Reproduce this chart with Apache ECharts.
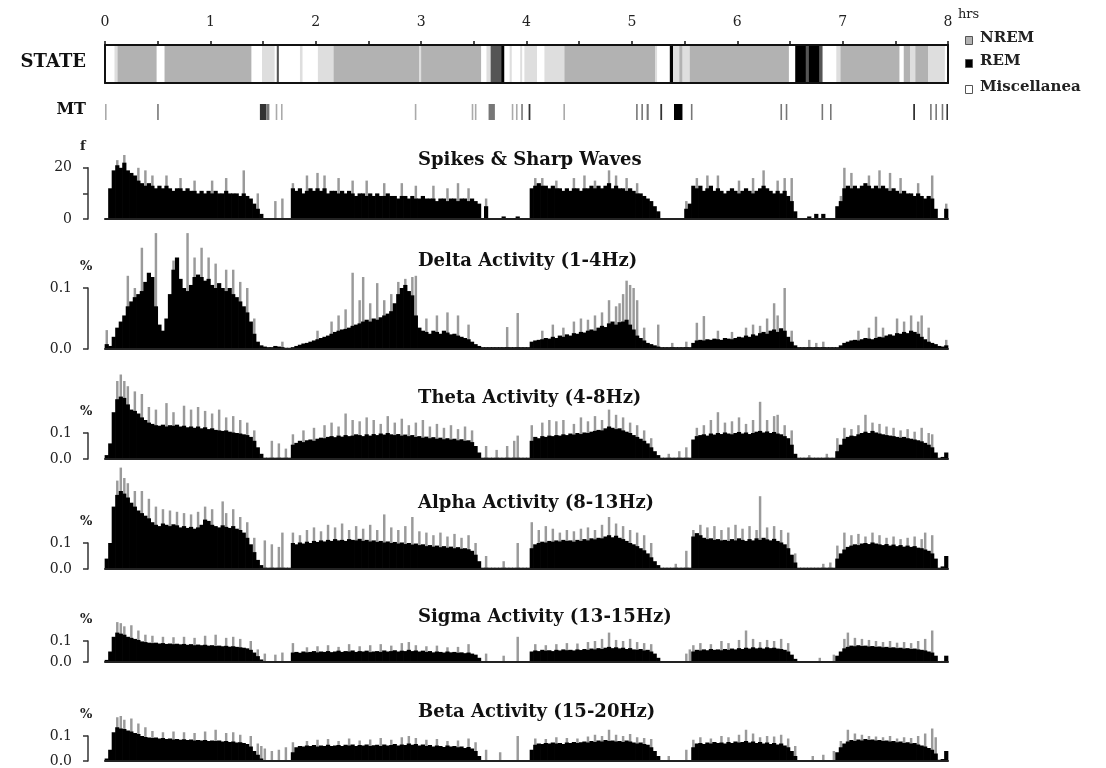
<!DOCTYPE html>
<html><head><meta charset="utf-8">
<script src="https://cdn.jsdelivr.net/npm/echarts@6/dist/echarts.min.js"></script>
<style>html,body{margin:0;padding:0;background:#fff}#c{width:1106px;height:768px}</style>
</head><body><div id="c"></div><script>
// ---------------- DATA ----------------
const hourTicks = [0,1,2,3,4,5,6,7,8];
const binCount = 240; // 2-minute bins over 8 hours
const binLabels = Array.from({length: binCount}, (_, i) => (i * 2) + ' min');

// STATE segments: [startHour, endHour, code]  0=Misc(white) 1=NREM(gray) 2=REM(black) 3=light transition 4=dark transition
const stateSegments = [
 [0,0.09,0],[0.09,0.12,3],[0.12,0.49,1],[0.49,0.565,0],[0.565,1.39,1],[1.39,1.49,0],[1.49,1.61,3],
 [1.61,1.63,0],[1.63,1.65,4],[1.65,1.85,0],[1.85,1.875,3],[1.875,2.02,0],[2.02,2.17,3],[2.17,2.98,1],
 [2.98,3.0,3],[3.0,3.57,1],[3.57,3.62,0],[3.62,3.66,3],[3.66,3.76,4],[3.76,3.79,2],[3.79,3.84,0],
 [3.84,3.86,3],[3.86,3.94,0],[3.94,3.96,3],[3.96,3.98,0],[3.98,4.10,3],[4.10,4.17,0],[4.17,4.36,3],
 [4.36,5.22,1],[5.22,5.24,3],[5.24,5.36,0],[5.36,5.39,2],[5.39,5.45,3],[5.45,5.48,1],[5.48,5.55,3],
 [5.55,6.49,1],[6.49,6.55,0],[6.55,6.65,2],[6.65,6.68,4],[6.68,6.78,2],[6.78,6.81,4],[6.81,6.94,0],
 [6.94,6.98,3],[6.98,7.54,1],[7.54,7.58,0],[7.58,7.64,1],[7.64,7.69,3],[7.69,7.81,1],[7.81,7.97,3],[7.97,8.0,0]
];
const stateColors = ['#ffffff','#b2b2b2','#000000','#dedede','#555555'];
const legendNames = ['NREM','REM','Miscellanea'];

// MT marks: [startHour, endHour, shade]  0=light 1=mid 2=dark 3=black
const mtMarks = [
 [0.00,0.015,0],[0.495,0.51,1],[1.47,1.53,2],[1.53,1.56,1],[1.62,1.635,0],[1.67,1.685,0],[2.94,2.955,0],
 [3.48,3.495,0],[3.51,3.525,0],[3.64,3.70,1],[3.86,3.875,0],[3.90,3.915,0],[3.95,3.965,1],[4.02,4.037,2],
 [4.35,4.365,0],[5.04,5.055,1],[5.09,5.105,1],[5.14,5.16,1],[5.27,5.287,2],[5.40,5.48,3],[5.56,5.575,1],
 [6.41,6.425,1],[6.46,6.475,1],[6.80,6.815,1],[6.88,6.895,1],[7.67,7.687,2],[7.83,7.845,1],[7.88,7.895,1],
 [7.94,7.955,1],[7.985,8.0,2]
];
const mtShades = ['#aaaaaa','#777777','#333333','#000000'];

// Spikes & sharp waves (count f per bin)
const spikesBlack = [
 0,12,19,21,20,22,19,18,17,15, 14,13,14,13,12,13,12,13,12,11, 12,12,11,12,11,11,10,11,10,11,
 10,11,10,10,11,10,10,10,9,10, 9,8,6,4,2,0,0,0,0,0, 0,0,0,12,11,12,10,11,12,11,
 12,11,12,10,11,11,10,11,10,11, 10,9,10,10,9,10,9,10,9,9, 10,9,9,8,9,9,8,9,8,8,
 9,8,8,8,7,8,8,7,8,8, 7,8,8,7,8,7,6,0,5,0, 0,0,0,1,0,0,0,1,0,0,
 0,12,13,14,13,13,12,13,12,12, 11,12,11,12,12,11,12,12,13,12, 13,12,13,14,12,13,12,12,11,12,
 11,10,10,9,8,7,5,3,0,0, 0,0,0,0,0,4,6,13,12,13, 11,12,13,11,12,11,10,11,12,11,
 10,11,12,11,10,11,12,13,12,11, 10,11,10,11,9,7,3,0,0,0, 1,0,2,0,2,0,0,0,5,7,
 12,13,12,13,12,13,14,13,12,13, 12,13,12,11,12,11,10,11,10,10, 9,10,9,8,9,8,4,0,0,4
];
const spikesPeaks = [[3,23],[5,25],[9,20],[11,19],[13,17],[17,17],[21,16],[25,15],[30,15],[34,16],[39,19],[43,10],
 [48,7],[50,8],[53,14],[57,17],[60,18],[62,17],[66,16],[70,15],[74,15],[79,14],[84,14],[88,13],[93,13],[97,12],
 [100,14],[103,12],[108,8],[122,16],[124,16],[128,15],[133,16],[136,17],[139,15],[143,19],[145,17],[148,16],[151,14],
 [165,7],[168,16],[171,17],[174,17],[180,15],[184,16],[187,19],[191,15],[193,16],[195,16],[209,9],[210,20],[212,18],
 [217,17],[220,19],[223,18],[226,16],[231,14],[235,17],[239,6]];

// Delta activity (units of 0.001 %)
const deltaBlack = [
 8,5,20,35,45,55,70,78,85,90, 95,110,125,118,70,40,30,50,90,130, 150,115,100,95,105,118,122,118,112,115,
 105,100,108,100,95,100,90,85,78,70, 60,45,25,12,6,4,3,3,5,4, 3,2,2,3,5,7,9,10,12,14,
 16,18,20,22,25,28,30,32,33,35, 38,40,42,45,48,45,50,48,52,55, 58,62,75,90,100,105,95,88,55,35,
 30,28,25,30,28,25,30,27,24,25, 22,20,18,16,12,8,5,3,3,3, 3,3,3,3,3,3,3,3,3,3,
 3,12,14,15,16,18,17,20,18,22, 20,24,22,26,25,28,27,30,32,30, 35,38,36,42,45,40,44,45,48,40,
 32,22,18,14,10,8,6,4,3,3, 3,3,3,3,3,3,3,10,14,15, 14,16,15,17,16,15,18,17,16,18,
 20,19,22,20,24,22,26,28,25,30, 32,28,34,30,20,12,6,3,3,3, 3,3,3,3,3,3,3,3,3,6,
 10,12,14,15,14,16,18,17,16,18, 20,19,22,24,22,26,25,28,26,30, 28,25,20,16,12,10,8,5,4,6
];
const deltaPeaks = [[0,31],[6,120],[8,100],[10,166],[14,190],[19,145],[23,190],[25,150],[27,166],[29,150],[31,140],
 [34,130],[36,130],[38,110],[40,100],[42,50],[50,12],[60,30],[64,45],[66,55],[68,65],[70,125],[72,80],[73,118],[75,75],
 [77,108],[79,80],[81,90],[83,110],[85,115],[87,118],[88,120],[91,50],[94,55],[97,60],[100,55],[103,40],[114,36],[117,59],
 [124,30],[127,40],[130,35],[133,45],[135,50],[137,48],[139,55],[141,60],[143,80],[145,70],[146,75],[147,90],[148,112],
 [149,105],[150,100],[151,80],[153,35],[157,40],[161,10],[165,12],[168,43],[170,54],[174,30],[178,28],[182,35],[184,40],
 [186,38],[188,50],[190,75],[191,55],[193,100],[195,30],[200,15],[202,10],[204,12],[214,30],[217,35],[219,53],[221,35],
 [225,50],[227,45],[229,55],[231,45],[232,55],[234,35],[239,15]];

// Theta activity (units of 0.001 %)
const thetaBlack = [
 15,60,180,230,240,235,210,190,185,175, 160,150,140,135,130,128,132,125,130,128, 132,125,128,122,125,120,125,118,122,115,
 118,112,110,108,110,105,102,100,98,95, 92,85,70,45,20,5,5,5,5,5, 5,5,5,55,62,70,65,72,75,70,
 78,82,80,85,88,84,90,86,92,88, 90,95,92,88,95,90,96,92,98,94, 100,95,92,96,90,94,88,92,85,88,
 82,86,80,84,78,82,76,80,75,78, 72,76,70,72,65,50,25,5,5,5, 5,5,5,5,5,5,5,5,5,5,
 5,70,85,80,88,85,90,88,92,90, 95,92,98,94,100,96,102,100,105,108, 112,110,118,125,120,115,118,110,105,100,
 92,85,78,70,60,45,30,15,5,5, 5,5,5,5,5,5,5,75,88,92, 95,90,98,94,100,96,102,98,95,100,
 104,98,102,96,100,105,108,102,106,100, 104,98,95,88,80,55,20,5,5,5, 5,5,5,5,5,5,5,5,30,55,
 78,85,90,88,95,100,105,100,108,102, 98,95,92,90,88,85,82,85,80,78, 75,72,68,62,55,45,25,5,8,25
];
const thetaPeaks = [[3,300],[4,325],[5,300],[6,280],[8,260],[10,250],[12,200],[14,190],[17,215],[19,180],[22,205],
 [24,190],[26,200],[28,185],[30,175],[32,190],[34,160],[36,165],[38,150],[40,140],[42,110],[47,70],[49,60],[51,40],
 [53,95],[56,110],[59,120],[62,130],[64,140],[66,125],[68,175],[70,150],[72,145],[74,160],[76,150],[78,135],[80,165],
 [82,140],[84,155],[86,130],[88,140],[90,150],[92,125],[94,135],[96,120],[98,130],[100,115],[102,125],[104,110],
 [108,50],[111,35],[114,50],[116,70],[117,90],[121,130],[124,140],[126,150],[128,145],[130,150],[133,135],[135,160],
 [137,145],[139,165],[141,150],[143,190],[145,170],[147,160],[149,140],[151,130],[153,110],[155,80],[160,20],[163,30],
 [165,45],[168,120],[170,130],[172,150],[174,180],[176,140],[178,145],[180,160],[182,135],[184,150],[186,220],[188,150],
 [190,165],[191,170],[193,130],[195,110],[200,15],[205,20],[208,80],[210,120],[212,115],[214,130],[216,170],[218,140],
 [220,135],[222,125],[224,120],[226,110],[228,115],[230,105],[232,120],[234,100],[235,95]];

// Alpha activity (units of 0.001 %)
const alphaBlack = [
 40,100,240,285,300,290,275,255,240,225, 215,205,195,180,170,165,175,170,165,172, 168,160,165,158,162,155,160,170,190,185,
 170,165,160,168,162,158,165,155,150,140, 120,95,65,35,15,5,5,5,5,5, 5,5,5,100,95,102,98,105,100,108,
 104,110,106,112,108,115,110,112,108,115, 112,110,116,108,112,106,110,104,108,102, 106,100,104,98,102,96,100,94,98,92,
 95,88,92,86,90,84,88,82,86,80, 84,78,80,76,70,55,30,5,5,5, 5,5,5,5,5,5,5,5,5,5,
 5,80,95,100,105,102,108,105,110,106, 112,108,110,105,112,108,115,110,118,114, 120,118,125,130,122,128,120,115,108,100,
 95,88,80,72,60,45,30,15,5,5, 5,5,5,5,5,5,5,125,138,130, 120,115,118,112,115,110,112,108,115,110,
 118,112,108,115,110,118,112,120,114,110, 116,108,102,95,80,55,25,5,5,5, 5,5,5,5,5,5,5,5,40,60,
 75,85,90,95,92,98,100,96,102,98, 95,92,96,90,94,88,92,86,90,85, 88,82,80,75,70,60,40,5,10,50
];
const alphaPeaks = [[3,340],[4,390],[5,350],[6,330],[8,300],[10,300],[12,270],[14,240],[16,230],[18,225],[20,220],
 [22,215],[24,210],[26,220],[28,240],[30,230],[33,260],[34,215],[36,230],[38,200],[40,180],[42,120],[45,110],[47,95],
 [49,85],[50,140],[53,140],[55,130],[57,150],[59,160],[61,145],[63,170],[65,160],[67,175],[69,150],[71,165],[73,155],
 [75,170],[77,150],[79,210],[81,160],[83,150],[85,165],[87,200],[89,145],[91,140],[93,130],[95,140],[97,125],[99,135],
 [101,120],[103,130],[105,100],[108,50],[113,30],[117,100],[121,180],[123,150],[125,165],[127,155],[129,140],[131,150],
 [133,145],[135,155],[137,160],[139,150],[141,170],[143,200],[145,175],[147,165],[149,150],[151,140],[153,130],[155,100],
 [162,20],[165,70],[167,150],[169,170],[171,160],[173,165],[175,150],[177,160],[179,170],[181,155],[183,165],[185,150],
 [186,280],[188,160],[190,165],[192,150],[194,140],[196,60],[204,20],[206,25],[208,90],[210,140],[212,130],[214,135],
 [216,125],[218,140],[220,130],[222,120],[224,125],[226,115],[228,120],[230,125],[232,115],[233,140],[235,130]];

// Sigma activity (units of 0.001 %)
const sigmaBlack = [
 10,50,120,140,135,130,120,115,110,105, 98,95,92,90,92,88,90,86,88,85, 87,84,86,82,85,80,83,80,82,78,
 80,76,78,75,77,73,75,72,70,68, 65,58,45,28,12,3,3,3,3,3, 3,3,3,45,48,44,50,46,48,52,
 46,50,48,52,47,50,54,48,52,50, 55,48,52,50,54,47,50,52,48,55, 50,52,56,50,54,52,58,52,55,50,
 54,48,52,46,50,48,45,50,46,48, 44,46,42,45,40,35,20,3,3,3, 3,3,3,3,3,3,3,3,3,3,
 3,50,55,52,58,54,56,52,58,55, 60,56,58,55,60,57,62,58,64,60, 66,62,68,72,66,70,65,68,62,66,
 60,58,62,55,58,50,40,20,3,3, 3,3,3,3,3,3,3,50,58,55, 60,56,62,58,60,56,62,58,64,60,
 66,62,68,64,70,65,68,64,70,66, 68,64,62,58,50,35,15,2,2,2, 2,2,2,2,2,2,2,2,30,50,
 65,72,78,75,80,76,78,74,76,72, 74,70,72,68,70,66,68,64,66,62, 64,60,58,55,50,45,30,3,5,30
];
const sigmaPeaks = [[3,190],[4,185],[5,170],[7,175],[9,150],[11,130],[13,125],[16,120],[19,118],[22,120],[25,115],
 [28,125],[31,130],[34,115],[36,120],[38,110],[41,100],[43,60],[45,40],[48,35],[50,45],[53,90],[57,70],[60,75],[63,80],
 [66,72],[69,85],[72,75],[75,80],[78,85],[81,78],[84,90],[86,95],[88,80],[91,75],[94,78],[97,70],[100,72],[103,85],
 [108,40],[113,30],[117,120],[122,85],[125,80],[128,85],[131,90],[134,88],[137,95],[139,100],[141,110],[143,140],
 [145,105],[147,100],[149,110],[151,95],[153,90],[155,85],[165,40],[166,60],[167,80],[169,90],[172,85],[175,100],
 [177,90],[180,105],[182,150],[184,110],[186,95],[188,105],[190,100],[192,110],[194,90],[203,20],[207,35],[210,110],
 [211,140],[213,115],[215,110],[217,105],[219,100],[221,95],[223,100],[225,92],[227,95],[229,90],[231,100],[233,110],[235,150]];

// Beta activity (units of 0.001 %)
const betaBlack = [
 10,45,115,135,130,128,122,118,112,108, 100,96,94,92,94,90,92,88,90,86, 88,85,87,84,86,82,84,82,84,80,
 82,80,82,78,80,76,78,74,75,72, 68,58,40,25,10,3,3,3,3,3, 3,3,3,35,55,60,58,62,60,64,
 58,62,60,65,60,62,64,60,65,62, 66,60,64,62,66,60,63,65,60,66, 62,64,68,62,66,64,70,65,68,62,
 66,60,64,58,62,60,56,62,58,60, 55,58,52,56,50,40,20,3,3,3, 3,3,3,3,3,3,3,3,3,3,
 3,45,65,70,68,72,70,74,70,72, 68,74,72,76,72,75,78,74,80,76, 82,78,84,80,82,78,80,76,82,78,
 74,70,74,68,65,55,40,20,3,3, 3,3,3,3,3,3,3,55,70,72, 68,74,70,76,72,74,70,76,72,78,
 74,76,80,74,78,72,76,70,74,68, 72,66,70,62,55,40,20,2,2,2, 2,2,2,2,2,2,2,2,35,55,
 70,78,84,80,86,82,88,84,86,82, 84,80,82,78,80,75,78,72,75,70, 72,66,62,58,52,45,30,5,8,40
];
const betaPeaks = [[3,175],[4,180],[5,165],[7,170],[9,150],[11,135],[13,120],[16,115],[19,118],[22,115],[25,112],
 [28,118],[31,125],[34,112],[36,115],[38,105],[41,100],[43,70],[44,60],[45,50],[47,40],[49,45],[51,55],[53,75],[57,80],
 [60,85],[63,88],[66,80],[69,90],[72,82],[75,86],[78,92],[81,85],[84,95],[86,100],[88,92],[91,85],[94,88],[97,80],
 [100,82],[103,90],[105,75],[108,45],[112,35],[117,100],[122,90],[125,88],[128,95],[131,92],[134,90],[137,98],[139,105],
 [141,100],[143,125],[145,105],[147,100],[149,108],[151,95],[153,92],[155,88],[160,20],[165,45],[167,85],[169,95],
 [172,90],[175,100],[177,95],[180,105],[182,125],[184,110],[186,95],[188,100],[190,98],[192,105],[194,90],[196,60],
 [201,20],[204,25],[207,40],[209,80],[211,125],[213,110],[215,105],[217,100],[219,98],[221,95],[223,100],[225,90],
 [227,95],[229,92],[231,100],[233,110],[235,130],[236,95]];

const panelTitles = ['Spikes & Sharp Waves','Delta Activity (1-4Hz)','Theta Activity (4-8Hz)',
  'Alpha Activity (8-13Hz)','Sigma Activity (13-15Hz)','Beta Activity (15-20Hz)'];
const panelUnits = ['f','%','%','%','%','%'];
const panelScales = [1, 0.001, 0.001, 0.001, 0.001, 0.001];
const panelBlacks = [spikesBlack, deltaBlack, thetaBlack, alphaBlack, sigmaBlack, betaBlack];
const panelPeaks = [spikesPeaks, deltaPeaks, thetaPeaks, alphaPeaks, sigmaPeaks, betaPeaks];
const bracketMax = [20, 0.1, 0.1, 0.1, 0.1, 0.1];
const bracketInterval = [10, 0.1, 0.1, 0.1, 0.1, 0.1];

// ---------------- LAYOUT ----------------
const L = 105, Wd = 843;
const panelLayout = [
  {top:155, height:64, max:25, brTop:167.8, brH:51.2, titleY:157},
  {top:227, height:122, max:0.2, brTop:288, brH:61, titleY:258},
  {top:368, height:91, max:0.35, brTop:433, brH:26, titleY:395},
  {top:465, height:104, max:0.4, brTop:543, brH:26, titleY:500},
  {top:620, height:42, max:0.2, brTop:641, brH:21, titleY:614},
  {top:711, height:50, max:0.2, brTop:736, brH:25, titleY:709}
];
const SERIF = "'DejaVu Serif', 'Liberation Serif', serif";
const GRAY = '#9a9a9a';

const grids = [], xAxes = [], yAxes = [], series = [], titles = [], graphics = [];
function addGrid(g){ grids.push(Object.assign({outerBoundsMode:'none', containLabel:false}, g)); return grids.length-1; }
const hidden = {show:false};

// STATE grid
const gState = addGrid({left:L, width:Wd, top:45, height:38});
const xState = xAxes.push({type:'value', gridIndex:gState, min:0, max:8, interval:0.5, position:'top', z:5,
  axisLine:{show:true, onZero:false, lineStyle:{color:'#111', width:2}},
  axisTick:{show:true, length:4, lineStyle:{color:'#111', width:1.5}},
  axisLabel:{margin:16, fontFamily:SERIF, fontSize:14, color:'#222',
    formatter: v => hourTicks.includes(v) ? String(v) : ''},
  splitLine:{show:false}}) - 1;
xAxes.push({type:'value', gridIndex:gState, min:0, max:8, position:'bottom', z:5,
  axisLine:{show:true, onZero:false, lineStyle:{color:'#111', width:2}}, axisTick:hidden, axisLabel:hidden, splitLine:hidden});
const yState = yAxes.push({type:'value', gridIndex:gState, min:0, max:1, position:'left', z:5,
  axisLine:{show:true, onZero:false, lineStyle:{color:'#111', width:2}}, axisTick:hidden, axisLabel:hidden, splitLine:hidden}) - 1;
yAxes.push({type:'value', gridIndex:gState, min:0, max:1, position:'right', z:5,
  axisLine:{show:true, onZero:false, lineStyle:{color:'#111', width:2}}, axisTick:hidden, axisLabel:hidden, splitLine:hidden});

series.push({type:'custom', xAxisIndex:xState, yAxisIndex:yState, z:1, encode:{x:[0,1]},
  data: stateSegments,
  renderItem(params, api){
    const a = api.coord([api.value(0), 1]);
    const b = api.coord([api.value(1), 0]);
    return {type:'rect', shape:{x:a[0], y:a[1], width:b[0]-a[0]+0.3, height:b[1]-a[1]},
      style:{fill: stateColors[api.value(2)]}};
  }});

// MT grid
const gMT = addGrid({left:L, width:Wd, top:104, height:16});
const xMT = xAxes.push({type:'value', gridIndex:gMT, min:0, max:8, show:false}) - 1;
const yMT = yAxes.push({type:'value', gridIndex:gMT, min:0, max:1, show:false}) - 1;
series.push({type:'custom', xAxisIndex:xMT, yAxisIndex:yMT, encode:{x:[0,1]},
  data: mtMarks,
  renderItem(params, api){
    const a = api.coord([api.value(0), 1]);
    const b = api.coord([api.value(1), 0]);
    return {type:'rect', shape:{x:a[0], y:a[1], width:Math.max(b[0]-a[0], 1.6), height:b[1]-a[1]},
      style:{fill: mtShades[api.value(2)]}};
  }});

// bar renderer: black bar (value) with thinner gray peak behind it, both through the axis scales
function renderBin(params, api){
  const i = api.value(0), b = api.value(1), pk = api.value(2);
  const base = api.coord([i, 0]);
  const tb = api.coord([i, b]);
  const tp = api.coord([i, pk]);
  const w = api.size([1, 0])[0];
  const children = [];
  if (pk > b) {
    const gw = w * 0.7;
    children.push({type:'rect', shape:{x: base[0] - gw/2, y: tp[1], width: gw, height: base[1] - tp[1]},
      style:{fill: GRAY}});
  }
  if (b > 0) {
    children.push({type:'rect', shape:{x: base[0] - w/2 - 0.35, y: tb[1], width: w + 0.7, height: base[1] - tb[1]},
      style:{fill: '#000'}});
  }
  return {type:'group', children};
}

// Panels
panelLayout.forEach((pl, p) => {
  const g = addGrid({left:L, width:Wd, top:pl.top, height:pl.height});
  const xi = xAxes.push({type:'category', gridIndex:g, data:binLabels, boundaryGap:true, z:4,
    axisLine:{show:true, onZero:false, lineStyle:{color:'#222', width:2}}, axisTick:hidden, axisLabel:hidden, splitLine:hidden}) - 1;
  const yi = yAxes.push({type:'value', gridIndex:g, min:0, max:pl.max, show:false}) - 1;
  const sc = panelScales[p];
  const black = panelBlacks[p];
  const peak = black.slice();
  panelPeaks[p].forEach(([i, v]) => { if (v > peak[i]) peak[i] = v; });
  series.push({type:'custom', xAxisIndex:xi, yAxisIndex:yi, z:2, renderItem: renderBin,
    encode:{x:0, y:[1,2]},
    data: black.map((v, i) => [i, +(v*sc).toFixed(4), +(peak[i]*sc).toFixed(4)])});

  // bracket axis
  const gb = addGrid({left:88, width:1, top:pl.brTop, height:pl.brH});
  xAxes.push({type:'value', gridIndex:gb, min:0, max:1, show:false});
  const bm = bracketMax[p];
  yAxes.push({type:'value', gridIndex:gb, min:0, max:bm, interval:bracketInterval[p], position:'left',
    axisLine:{show:true, onZero:false, lineStyle:{color:'#333', width:1.5}},
    axisTick:{show:true, length:5, lineStyle:{color:'#333', width:1.5}},
    axisLabel:{margin:16, fontFamily:SERIF, fontSize:14, color:'#222',
      formatter: v => p === 0 ? ((v === 0 || v === bm) ? String(v) : '') : v.toFixed(1)},
    splitLine:hidden});

  titles.push({text:panelTitles[p], left:413, top:pl.titleY - 11,
    textStyle:{fontFamily:SERIF, fontSize:18, fontWeight:'bold', color:'#111'}});
  graphics.push({type:'text', left:80, top:pl.brTop - 28,
    style:{text:panelUnits[p], fontFamily:SERIF, fontSize:13, fontWeight:'bold', fill:'#222'}});
});

// Row labels & legend
graphics.push({type:'text', right:1106-86, top:53, style:{text:'STATE', fontFamily:SERIF, fontSize:18, fontWeight:'bold', fill:'#111'}});
graphics.push({type:'text', right:1106-86, top:102, style:{text:'MT', fontFamily:SERIF, fontSize:16, fontWeight:'bold', fill:'#111'}});
graphics.push({type:'text', left:958, top:8, style:{text:'hrs', fontFamily:SERIF, fontSize:13, fill:'#222'}});
const legendY = [40, 63, 89];
const legendFill = [stateColors[1], stateColors[2], stateColors[0]];
legendNames.forEach((n, k) => {
  graphics.push({type:'rect', left:965, top:legendY[k]-4, shape:{width:7, height:8},
    style:{fill:legendFill[k], stroke:'#555', lineWidth:1}});
  graphics.push({type:'text', left:980, top:legendY[k]-9, style:{text:n, fontFamily:SERIF, fontSize:15, fontWeight:'bold', fill:'#222'}});
});

const chart = echarts.init(document.getElementById('c'), null, {renderer:'canvas'});
chart.setOption({
  animation:false, backgroundColor:'#fff',
  title: titles, grid: grids, xAxis: xAxes, yAxis: yAxes, series: series, graphic: graphics
});
</script></body></html>
